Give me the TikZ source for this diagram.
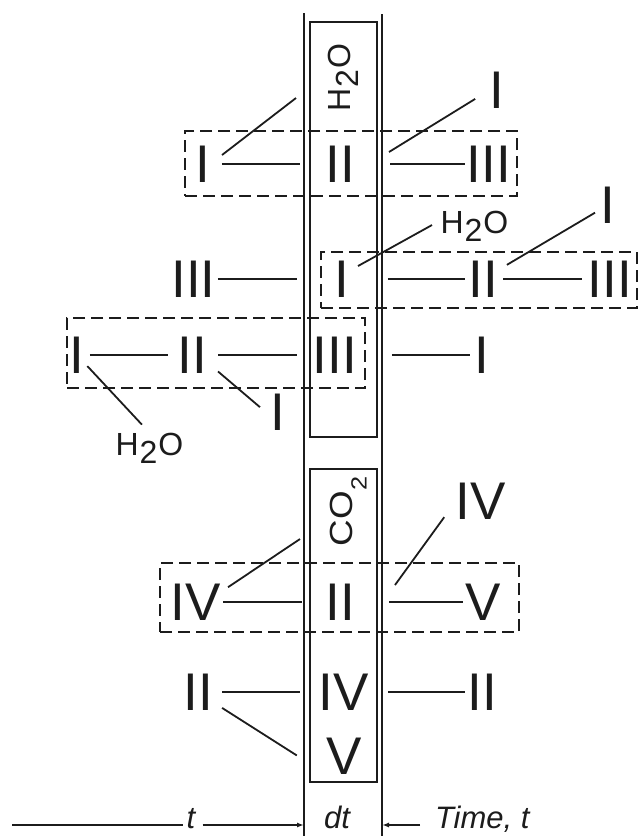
\documentclass[tikz,border=0pt]{standalone}
\usepackage{graphicx}
\usepackage{fontspec}
\setmainfont{Liberation Sans}
\usepackage{tikz}
\usetikzlibrary{arrows.meta}
\definecolor{ink}{RGB}{28,28,28}
\newcommand{\numsize}{\fontsize{53}{53}\selectfont}
\newcommand{\chemsize}{\fontsize{32}{32}\selectfont}
\newcommand{\axissize}{\fontsize{31}{31}\selectfont\itshape}
\newcommand{\water}{H\kern1pt\raisebox{-.28em}{2}\kern1pt O}
\newcommand{\carbon}{\scalebox{1.15}[1]{C\kern.5pt O\raisebox{-14pt}{\fontsize{22}{22}\selectfont 2}}}

\begin{document}
\begin{tikzpicture}[
x=1pt, y=-1pt,
num/.style={inner sep=0pt, outer sep=0pt, text=ink, font=\numsize},
chem/.style={inner sep=0pt, outer sep=0pt, text=ink, font=\chemsize},
axislabel/.style={inner sep=0pt, outer sep=0pt, text=ink, font=\axissize},
cell/.style={draw=ink, line width=2pt, inner sep=0pt, minimum width=67pt},
groupbox/.style={draw=ink, line width=1.8pt, dash pattern=on 12pt off 6pt, inner sep=0pt},
rail/.style={draw=ink, line width=1.3pt},
bond/.style={draw=ink, line width=1.8pt},
axisline/.style={draw=ink, line width=1.4pt},
axisarrow/.style={axisline, -{Latex[length=7pt,width=5pt]}}
]
\useasboundingbox (0,0) rectangle (639,836);

% time column
\coordinate (lt) at (304,13);
\coordinate (lb) at (304,840);
\coordinate (rt) at (382,14);
\coordinate (rb) at (382,840);
\draw[rail] (lt) -- (lb);
\draw[rail] (rt) -- (rb);
\node[cell, minimum height=415pt] (upper) at (343.5,229.5) {};
\node[cell, minimum height=313pt] (lower) at (343.5,625.5) {};
\node[chem, rotate=90, anchor=base] (h2o) at (350,77.5) {\water};
\node[chem, rotate=90, anchor=base] (co2) at (352.5,511.5) {\carbon};

% dashed groups
\node[groupbox, minimum width=332pt, minimum height=65pt] (g1) at (351,163.5) {};
\node[groupbox, minimum width=316pt, minimum height=56pt] (g2) at (479,280) {};
\node[groupbox, minimum width=298pt, minimum height=70pt] (g3) at (216,353) {};
\node[groupbox, minimum width=359pt, minimum height=69pt] (g4) at (339.5,597.5) {};

% row 1
\node[num] (r1a) at (203,164) {I};
\node[num] (r1b) at (340,164) {II};
\node[num] (r1c) at (489,164) {III};
\node[num] (r1d) at (497,90) {I};
% row 2
\node[num] (r2a) at (193.5,279) {III};
\node[num] (r2b) at (342,279) {I};
\node[num] (r2c) at (483,279) {II};
\node[num] (r2d) at (610,279) {III};
\node[num] (r2e) at (608,205) {I};
\node[chem, anchor=base west] (r2w) at (440.5,233) {\water};
% row 3
\node[num] (r3a) at (77,355) {I};
\node[num] (r3b) at (192,355) {II};
\node[num] (r3c) at (335,355) {III};
\node[num] (r3e) at (482,355) {I};
\node[num] (r3d) at (278,412) {I};
\node[chem, anchor=base west] (r3w) at (115.5,455) {\water};
% row 4
\node[num] (r4a) at (196,602) {IV};
\node[num] (r4b) at (340,602) {II};
\node[num] (r4c) at (483,602) {V};
\node[num] (r4d) at (481,501) {IV};
% row 5
\node[num] (r5a) at (198,692) {II};
\node[num] (r5b) at (344,692) {IV};
\node[num] (r5d) at (482,692) {II};
\node[num] (r5c) at (344,756) {V};

% bonds along the rows
\foreach \a/\b/\s/\e in {r1a/r1b/11.6pt/25.3pt, r1b/r1c/35.3pt/1.9pt,
  r2a/r2b/2.4pt/37.6pt, r2b/r2c/38.6pt/3.3pt, r2c/r2d/5.3pt/5.9pt,
  r3a/r3b/5.6pt/9.3pt, r3b/r3c/11.3pt/15.9pt, r3c/r3e/34.9pt/4.6pt,
  r4a/r4b/2pt/23.3pt, r4b/r4c/34.3pt/2.3pt,
  r5a/r5b/9.3pt/19pt, r5b/r5d/19pt/2.3pt}
  \draw[bond, shorten <=\s, shorten >=\e] (\a) -- (\b);

% side links
\coordinate (r1w) at (296,98);
\coordinate (r1x) at (389,152);
\coordinate (r4w) at (300,539);
\coordinate (r4x) at (395,585);
\draw[bond, shorten <=14.7pt] (r1a.east) -- (r1w);
\draw[bond, shorten >=17pt] (r1x) -- (r1d.west);
\draw[bond, shorten <=9.9pt, shorten >=9.7pt] (r2b.48) -- (r2w.170);
\draw[bond, shorten <=10.7pt, shorten >=6.5pt] (r2c) -- (r2e);
\draw[bond, shorten <=4.4pt, shorten >=11pt] (r3a) -- (r3w.north);
\draw[bond, shorten <=14.8pt, shorten >=14pt] (r3b.-25) -- (r3d.210);
\draw[bond, shorten <=8.4pt] (r4a.22) -- (r4w);
\draw[bond, shorten >=20pt] (r4x) -- (r4d.west);
\draw[bond, shorten <=11.1pt, shorten >=35pt] (r5a.-34) -- (r5c.south west);

% time axis
\coordinate (tstart) at (12,825);
\node[axislabel, anchor=base] (tl) at (191,828) {t};
\node[axislabel, anchor=base] (dt) at (337,828) {dt};
\node[axislabel, anchor=base west] (time) at (435,828) {Time, t};
\draw[axisline, shorten >=3.4pt] (tstart) -- (tl.west |- tstart);
\draw[axisarrow, shorten <=7.4pt] (tl.east |- tstart) -- (lb |- tstart);
\draw[axisarrow, shorten <=15pt] (time.west |- tstart) -- (rb |- tstart);
\end{tikzpicture}
\end{document}
